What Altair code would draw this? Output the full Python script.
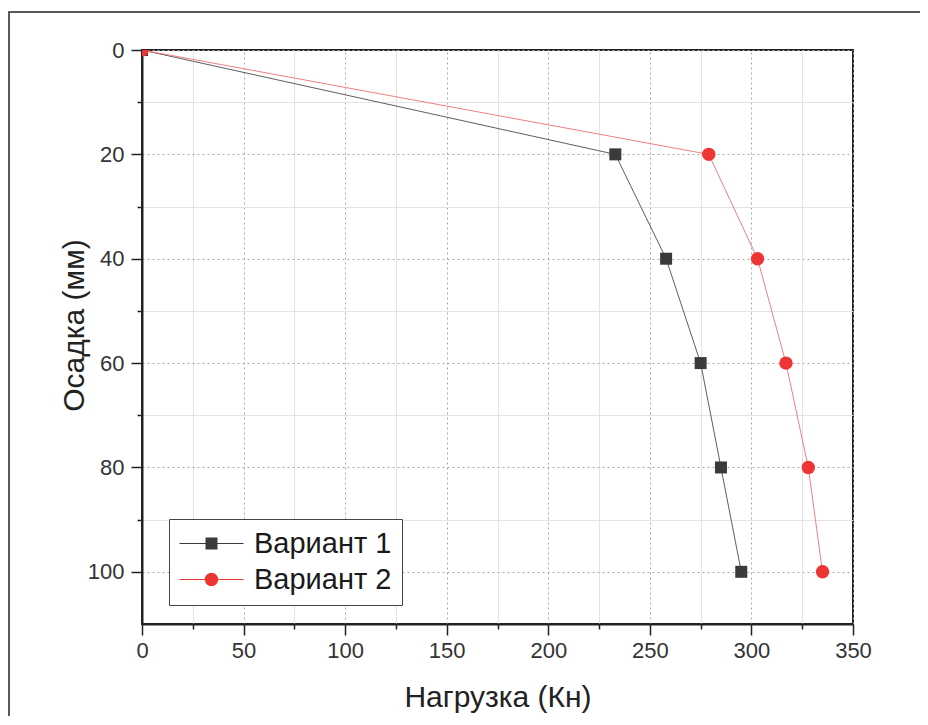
import altair as alt
import pandas as pd

# ---- data ----
settlement = [0, 20, 40, 60, 80, 100]
load_v1 = [0, 233, 258, 275, 285, 295]
load_v2 = [0, 279, 303, 317, 328, 335]
series_names = ["Вариант 1", "Вариант 2"]

x_major = [0, 50, 100, 150, 200, 250, 300, 350]
x_minor = [25, 75, 125, 175, 225, 275, 325]
y_major = [0, 20, 40, 60, 80, 100]
y_minor = [10, 30, 50, 70, 90]

marker_colors = ["#3b3b3b", "#ef3434"]
line_colors = ["#5e5e5e", "#f27f7f"]

df = pd.DataFrame({
    "load": load_v1 + load_v2,
    "settle": settlement + settlement,
    "series": [series_names[0]] * len(load_v1) + [series_names[1]] * len(load_v2),
})

FONT = "Liberation Sans"
x_scale = alt.Scale(domain=[0, 350], nice=False, zero=False)
y_scale = alt.Scale(domain=[0, 110], nice=False, reverse=True)

# legend symbols: a thin line with the marker on it (path units scaled by sqrt(size)/2 = 14px)
L, t, q = 2.2857, 0.04, 0.4286
line_part = f"M{-L},{-t} L{L},{-t} L{L},{t} L{-L},{t} Z "
sq_path = line_part + f"M{-q},{-q} L{q},{-q} L{q},{q} L{-q},{q} Z"
r, k = 0.4786, 0.2643
ci_path = (line_part +
           f"M{r},0 C{r},{k} {k},{r} 0,{r} C{-k},{r} {-r},{k} {-r},0 "
           f"C{-r},{-k} {-k},{-r} 0,{-r} C{k},{-r} {r},{-k} {r},0 Z")

legend_def = alt.Legend(
    title=None, orient="none", legendX=27, legendY=469, padding=10,
    strokeColor="#444444", fillColor="white", labelFontSize=29, labelFont=FONT,
    labelColor="#1a1a1a", symbolSize=784, symbolStrokeWidth=0, symbolOpacity=1,
    symbolOffset=18, rowPadding=6, labelOffset=28,
)

# decorative outer frame: only its top and left edges fall inside the picture
frame_df = pd.DataFrame({"a": [0]})
frame = alt.Chart(frame_df).mark_rect(filled=False, stroke="#222222", strokeWidth=1.5).encode(
    x=alt.value(-133), x2=alt.value(1000), y=alt.value(-38), y2=alt.value(900))

# invisible layer carrying the minor grid/ticks and the legend
legend_layer = alt.Chart(df).mark_point(filled=True).encode(
    x=alt.X("load:Q", scale=x_scale, axis=alt.Axis(
        values=x_minor, orient="bottom", labels=False, title=None, grid=True,
        gridColor="#e3e3e3", gridWidth=1, tickSize=5, tickWidth=1.5,
        tickColor="#222222", domain=False)),
    y=alt.Y("settle:Q", scale=y_scale, axis=alt.Axis(
        values=y_minor, orient="left", labels=False, title=None, grid=True,
        gridColor="#e3e3e3", gridWidth=1, tickSize=5, tickWidth=1.5,
        tickColor="#222222", domain=False)),
    fill=alt.Fill("series:N", scale=alt.Scale(domain=series_names, range=marker_colors),
                  legend=legend_def),
    shape=alt.Shape("series:N", scale=alt.Scale(domain=series_names, range=[sq_path, ci_path]),
                    legend=legend_def),
    opacity=alt.value(0),
)

lines = alt.Chart(df).mark_line(strokeWidth=1, clip=True).encode(
    x=alt.X("load:Q", scale=x_scale, axis=alt.Axis(
        values=x_major, orient="bottom", title="Нагрузка (Кн)", grid=True,
        gridDash=[2, 3], gridColor="#a9a9a9", gridWidth=1, tickSize=11, tickWidth=1.5,
        tickColor="#222222", domainColor="#222222", domainWidth=2,
        labelFontSize=22, labelColor="#333333", labelPadding=5, labelFlush=False,
        titleFontSize=30, titleFontWeight="normal", titleColor="#222222",
        titleY=73, titleBaseline="middle")),
    y=alt.Y("settle:Q", scale=y_scale, axis=alt.Axis(
        values=y_major, orient="left", title="Осадка (мм)", grid=True,
        gridDash=[2, 3], gridColor="#a9a9a9", gridWidth=1, tickSize=11, tickWidth=1.5,
        tickColor="#222222", domainColor="#222222", domainWidth=2,
        labelFontSize=22, labelColor="#333333", labelPadding=7, labelFlush=False,
        titleFontSize=30, titleFontWeight="normal", titleColor="#222222",
        titleX=-68, titleY=275, titleBaseline="middle")),
    stroke=alt.Stroke("series:N", scale=alt.Scale(domain=series_names, range=line_colors),
                      legend=None),
    order=alt.Order("settle:Q"),
)

points = alt.Chart(df).mark_point(filled=True, opacity=1, clip=True).encode(
    x=alt.X("load:Q", scale=x_scale, axis=None),
    y=alt.Y("settle:Q", scale=y_scale, axis=None),
    color=alt.Color("series:N", scale=alt.Scale(domain=series_names, range=marker_colors),
                    legend=None),
    shape=alt.condition(alt.datum.series == series_names[1], alt.value("circle"), alt.value("square")),
    size=alt.condition(alt.datum.series == series_names[1], alt.value(180), alt.value(144)),
)

chart = alt.layer(frame, legend_layer, lines, points).resolve_axis(
    x="independent", y="independent"
).properties(
    width=711, height=574,
    autosize=alt.AutoSizeParams(type="none"),
    padding={"left": 134, "top": 42, "right": 67, "bottom": 92},
    background="white",
).configure_axis(
    labelFont=FONT, titleFont=FONT,
).configure_legend(
    symbolOpacity=1,
).configure_view(
    stroke="#222222", strokeWidth=2,
)

chart.save("out.html", embed_options={"renderer": "svg", "actions": False})
